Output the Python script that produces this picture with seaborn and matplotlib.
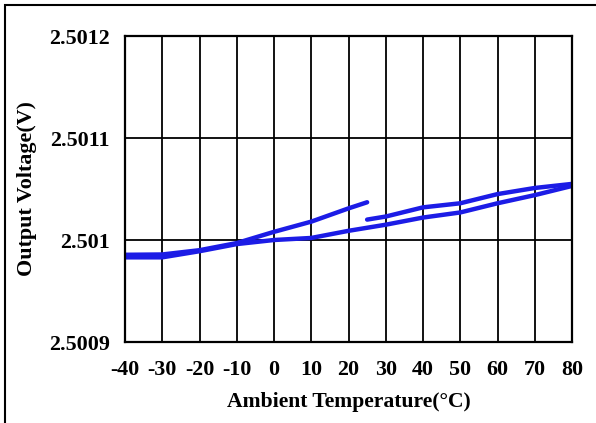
import numpy as np
import pandas as pd
import matplotlib
matplotlib.use("Agg")
import matplotlib.pyplot as plt
import seaborn as sns
from matplotlib.patches import Rectangle

# Temperature sweep readings (°C, V)
temp_rise = [-40, -30, -20, -10, 0, 10, 20, 30, 40, 50, 60, 70, 80]
volt_rise = [2.500983, 2.500983, 2.500989, 2.500996, 2.501000, 2.501002, 2.501009,
             2.501015, 2.501022, 2.501027, 2.501036, 2.501044, 2.501053]

temp_fall_low = [-40, -30, -20, -10, 0, 10, 20, 25]
volt_fall_low = [2.5009855, 2.5009858, 2.500990, 2.500997, 2.501008, 2.501018,
                 2.501031, 2.501037]

temp_fall_high = [25, 30, 40, 50, 60, 70, 80]
volt_fall_high = [2.501020, 2.501023, 2.501032, 2.501036, 2.501045, 2.501051, 2.501055]

x_ticks = [-40, -30, -20, -10, 0, 10, 20, 30, 40, 50, 60, 70, 80]
y_ticks = [2.5009, 2.501, 2.5011, 2.5012]
y_tick_labels = ["2.5009", "2.501", "2.5011", "2.5012"]

df = pd.concat([
    pd.DataFrame({"temp": temp_rise, "volt": volt_rise, "run": "rise"}),
    pd.DataFrame({"temp": temp_fall_low, "volt": volt_fall_low, "run": "fall_low"}),
    pd.DataFrame({"temp": temp_fall_high, "volt": volt_fall_high, "run": "fall_high"}),
])

sns.set_theme(style="white")
plt.rcParams["font.family"] = ["Liberation Serif", "DejaVu Serif"]
plt.rcParams["font.weight"] = "bold"

fig = plt.figure(figsize=(5.96, 4.23), dpi=100)
ax = fig.add_axes([125 / 596, 1 - 342 / 423, (572 - 125) / 596, (342 - 36) / 423])

line_color = "#1c1ce6"
sns.lineplot(data=df, x="temp", y="volt", units="run", estimator=None, sort=False,
             color=line_color, linewidth=3.2, ax=ax, solid_capstyle="round")

ax.set_xlim(-40, 80)
ax.set_ylim(2.5009, 2.5012)
ax.set_xticks(x_ticks)
ax.set_xticklabels([str(t) for t in x_ticks])
ax.set_yticks(y_ticks)
ax.set_yticklabels(y_tick_labels)
ax.grid(True, color="black", linewidth=1.3)
ax.set_axisbelow(True)
for s in ax.spines.values():
    s.set_color("black")
    s.set_linewidth(1.6)
    s.set_visible(True)

ax.tick_params(axis="both", length=0, labelsize=15.8, colors="black")
ax.tick_params(axis="x", pad=13)
ax.tick_params(axis="y", pad=11)
for lbl in ax.get_xticklabels() + ax.get_yticklabels():
    lbl.set_fontweight("bold")

ax.set_xlabel("Ambient Temperature(°C)", fontsize=15.6, fontweight="bold", color="black")
ax.set_ylabel("Output Voltage(V)", fontsize=15.8, fontweight="bold", color="black")
ax.xaxis.label.set_va("center")
ax.yaxis.label.set_va("center")
ax.xaxis.set_label_coords(0.5, (342 - 402) / 306)
ax.yaxis.set_label_coords((27 - 125) / 447, 0.5)

# Frame around the whole chart
fig.patches.append(Rectangle((5 / 596, -0.1), 1.2, 1 - 5 / 423 + 0.1,
                             transform=fig.transFigure, fill=False,
                             edgecolor="black", linewidth=1.5))

fig.savefig("out.png", dpi=100)
